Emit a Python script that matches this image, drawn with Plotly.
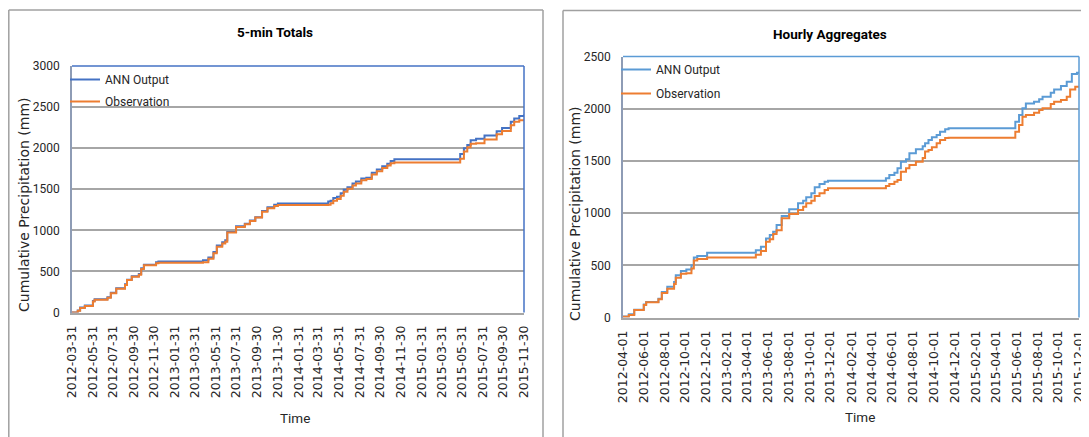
import plotly.graph_objects as go

# ---------------- data: 5-min Totals (left) ----------------
left_dates = [
    "2012-03-31", "2012-04-17", "2012-04-24", "2012-05-08", "2012-06-01", "2012-06-06",
    "2012-07-14", "2012-07-24", "2012-08-09", "2012-09-04", "2012-09-10", "2012-09-24",
    "2012-10-15", "2012-10-22", "2012-10-30", "2012-12-05", "2012-12-12", "2013-04-23",
    "2013-05-09", "2013-05-24", "2013-06-03", "2013-06-19", "2013-06-28", "2013-07-04",
    "2013-07-30", "2013-08-25", "2013-09-09", "2013-09-25", "2013-10-15", "2013-10-31",
    "2013-11-20", "2013-12-01", "2014-04-29", "2014-05-06", "2014-05-14", "2014-05-25",
    "2014-06-05", "2014-06-14", "2014-06-25", "2014-07-10", "2014-07-20", "2014-08-05",
    "2014-08-20", "2014-09-05", "2014-09-20", "2014-10-06", "2014-10-21", "2014-10-31",
    "2014-11-11", "2015-05-25", "2015-06-05", "2015-06-15", "2015-06-25", "2015-07-11",
    "2015-08-05", "2015-09-10", "2015-09-26", "2015-10-22", "2015-11-01", "2015-11-16",
    "2015-11-30",
]
left_ann = [
    0, 25, 60, 85, 140, 160,
    185, 240, 295, 345, 400, 440,
    470, 540, 580, 612, 622, 635,
    670, 735, 815, 855, 880, 980,
    1050, 1080, 1120, 1160, 1235, 1280,
    1310, 1328, 1350, 1360, 1395, 1410,
    1450, 1495, 1525, 1570, 1595, 1630,
    1640, 1700, 1740, 1780, 1810, 1845,
    1865, 1930, 2000, 2040, 2095, 2115,
    2155, 2205, 2245, 2320, 2360, 2390,
    2410,
]
left_obs = [
    0, 20, 55, 80, 135, 155,
    180, 235, 290, 335, 395, 435,
    460, 530, 575, 600, 605, 612,
    655, 720, 800, 840, 860, 975,
    1040, 1075, 1115, 1155, 1225, 1270,
    1295, 1308, 1310, 1330, 1360, 1380,
    1420, 1470, 1505, 1545, 1570, 1610,
    1625, 1680, 1720, 1760, 1790, 1815,
    1825, 1870, 1960, 2010, 2055, 2060,
    2105, 2170, 2210, 2280, 2320, 2340,
    2350,
]
left_ticks = [
    "2012-03-31", "2012-05-31", "2012-07-31", "2012-09-30", "2012-11-30",
    "2013-01-31", "2013-03-31", "2013-05-31", "2013-07-31", "2013-09-30", "2013-11-30",
    "2014-01-31", "2014-03-31", "2014-05-31", "2014-07-31", "2014-09-30", "2014-11-30",
    "2015-01-31", "2015-03-31", "2015-05-31", "2015-07-31", "2015-09-30", "2015-11-30",
]

# ---------------- data: Hourly Aggregates (right) ----------------
right_dates = [
    "2012-04-01", "2012-04-18", "2012-05-04", "2012-06-01", "2012-06-08", "2012-07-14",
    "2012-07-24", "2012-08-09", "2012-08-29", "2012-09-03", "2012-09-18", "2012-10-04",
    "2012-10-19", "2012-10-26", "2012-11-05", "2012-12-04", "2013-04-26", "2013-05-11",
    "2013-05-26", "2013-06-06", "2013-06-16", "2013-06-26", "2013-07-11", "2013-08-02",
    "2013-08-28", "2013-09-12", "2013-09-21", "2013-10-06", "2013-10-16", "2013-10-30",
    "2013-11-14", "2013-11-24", "2014-05-13", "2014-05-23", "2014-06-07", "2014-06-16",
    "2014-06-26", "2014-07-11", "2014-07-21", "2014-08-09", "2014-08-29", "2014-09-05",
    "2014-09-15", "2014-09-25", "2014-10-09", "2014-10-19", "2014-11-03", "2014-11-13",
    "2015-05-28", "2015-06-08", "2015-06-18", "2015-06-28", "2015-07-22", "2015-08-06",
    "2015-08-16", "2015-09-09", "2015-09-19", "2015-10-09", "2015-10-26", "2015-11-05",
    "2015-11-10", "2015-11-20", "2015-11-25", "2015-12-01",
]
right_ann = [
    10, 30, 75, 125, 148, 180,
    245, 295, 340, 405, 446, 460,
    500, 574, 590, 620, 645, 677,
    757, 790, 822, 886, 972, 1036,
    1094, 1119, 1151, 1189, 1247, 1279,
    1301, 1310, 1333, 1365, 1387, 1429,
    1493, 1515, 1573, 1611, 1640, 1670,
    1700, 1726, 1748, 1780, 1802, 1812,
    1876, 1940, 2004, 2051, 2067, 2090,
    2115, 2153, 2185, 2217, 2259, 2259,
    2332, 2332, 2345, 2355,
]
right_obs = [
    8, 25, 72, 120, 145, 175,
    235, 275, 320, 380, 420, 425,
    470, 545, 560, 575, 600, 638,
    725, 750, 800, 835, 950, 991,
    1030, 1061, 1094, 1119, 1164, 1189,
    1221, 1237, 1260, 1279, 1301, 1318,
    1397, 1429, 1461, 1493, 1527, 1590,
    1604, 1630, 1669, 1700, 1719, 1722,
    1780, 1844, 1923, 1940, 1962, 1988,
    2004, 2045, 2067, 2083, 2115, 2185,
    2185, 2211, 2211, 2215,
]
right_ticks = [
    "2012-04-01", "2012-06-01", "2012-08-01", "2012-10-01", "2012-12-01",
    "2013-02-01", "2013-04-01", "2013-06-01", "2013-08-01", "2013-10-01", "2013-12-01",
    "2014-02-01", "2014-04-01", "2014-06-01", "2014-08-01", "2014-10-01", "2014-12-01",
    "2015-02-01", "2015-04-01", "2015-06-01", "2015-08-01", "2015-10-01", "2015-12-01",
]

# ---------------- figure ----------------
# The page places the figure 8px in from the top-left corner, so the figure is
# sized to the visible area and positions below are given in page pixels.
OFF = 8
W, H = 1089 - OFF, 437 - OFF


def px(x):
    return (x - OFF) / W


def py(y):
    return 1 - (y - OFF) / H


ORANGE = "#ED7D31"
BLUE_L = "#4472C4"
BLUE_R = "#5B9BD5"
GRID = "#A6A6A6"
AXIS = "#A6A6A6"
TXT = "#262626"

fig = go.Figure()
fig.add_trace(go.Scatter(x=left_dates, y=left_ann, name="ANN Output", mode="lines",
                         line=dict(color=BLUE_L, width=2, shape="hv"),
                         xaxis="x", yaxis="y", legend="legend", legendgroup="a1"))
fig.add_trace(go.Scatter(x=left_dates, y=left_obs, name="Observation", mode="lines",
                         line=dict(color=ORANGE, width=2, shape="hv"),
                         xaxis="x", yaxis="y", legend="legend", legendgroup="o1"))
fig.add_trace(go.Scatter(x=right_dates, y=right_ann, name="ANN Output", mode="lines",
                         line=dict(color=BLUE_R, width=2, shape="hv"),
                         xaxis="x2", yaxis="y2", legend="legend2", legendgroup="a2"))
fig.add_trace(go.Scatter(x=right_dates, y=right_obs, name="Observation", mode="lines",
                         line=dict(color=ORANGE, width=2, shape="hv"),
                         xaxis="x2", yaxis="y2", legend="legend2", legendgroup="o2"))

xtickfont = dict(family="DejaVu Sans", size=12.5, color=TXT)
ytickfont = dict(family="Roboto", size=12, color=TXT)

L = dict(x0=72, x1=524, y0=66, y1=312.5)
R = dict(x0=623, x1=1079, y0=56.5, y1=317.5)


def xaxis_cfg(dom, rng, ticks, anchor):
    return dict(domain=[px(dom["x0"]), px(dom["x1"])], range=rng, type="date",
                tickmode="array", tickvals=ticks, ticktext=ticks, tickangle=-90,
                showgrid=False, zeroline=False, ticks="", tickfont=xtickfont,
                showline=True, linecolor=AXIS, linewidth=2, anchor=anchor,
                ticklabelstandoff=6, fixedrange=True, automargin=False)


def yaxis_cfg(dom, rng, anchor):
    return dict(domain=[py(dom["y1"]), py(dom["y0"])], range=rng, dtick=500,
                showgrid=True, gridcolor=GRID, gridwidth=2, zeroline=False,
                ticks="", tickfont=ytickfont, showline=True, linecolor="#8E9CB5",
                linewidth=1.5, anchor=anchor, ticklabelstandoff=8, fixedrange=True,
                automargin=False)


shapes = []
# plot-area borders (top & right, blue)
for d, c in ((L, BLUE_L), (R, BLUE_R)):
    shapes.append(dict(type="line", xref="paper", yref="paper",
                       x0=px(d["x0"]), x1=px(d["x1"]), y0=py(d["y0"]), y1=py(d["y0"]),
                       line=dict(color=c, width=1.5)))
    shapes.append(dict(type="line", xref="paper", yref="paper",
                       x0=px(d["x1"]), x1=px(d["x1"]), y0=py(d["y0"]), y1=py(d["y1"]),
                       line=dict(color=c, width=1.5)))
# outer chart-area frames
FR = "#A0A0A0"
for (xa, ya, xb, yb) in [(8.8, 10, 8.8, 440), (8.8, 10, 543, 10), (543, 10, 543, 440),
                         (563, 10.5, 563, 440), (563, 10.5, 1095, 10.5)]:
    shapes.append(dict(type="line", xref="paper", yref="paper",
                       x0=px(xa), x1=px(xb), y0=py(ya), y1=py(yb),
                       line=dict(color=FR, width=1.5)))


def ann(text, x, y, size, family="Roboto", angle=0, color=TXT):
    return dict(text=text, x=px(x), y=py(y), xref="paper", yref="paper",
                xanchor="center", yanchor="middle", showarrow=False, textangle=angle,
                font=dict(family=family, size=size, color=color))


annotations = [
    ann("<b>5-min Totals</b>", 275, 32, 13.5, color="#000000"),
    ann("<b>Hourly Aggregates</b>", 830, 34, 13.5, color="#000000"),
    ann("Cumulative Precipitation (mm)", 24, 205, 14, family="DejaVu Sans", angle=-90),
    ann("Cumulative Precipitation (mm)", 575, 214, 14, family="DejaVu Sans", angle=-90),
    ann("Time", 295, 418, 13.5),
    ann("Time", 860, 417, 13.5),
]

legend_font = dict(family="Roboto", size=12, color=TXT)

fig.update_layout(
    width=W, height=H, autosize=False,
    margin=dict(l=0, r=0, t=0, b=0, pad=0, autoexpand=False),
    paper_bgcolor="white", plot_bgcolor="white",
    xaxis=xaxis_cfg(L, ["2012-03-31", "2015-11-30"], left_ticks, "y"),
    yaxis=yaxis_cfg(L, [0, 3000], "x"),
    xaxis2=xaxis_cfg(R, ["2012-04-01", "2015-12-01"], right_ticks, "y2"),
    yaxis2=yaxis_cfg(R, [0, 2500], "x2"),
    legend=dict(x=px(65), y=py(65), xanchor="left", yanchor="top",
                bgcolor="rgba(0,0,0,0)", font=legend_font, itemwidth=30,
                tracegroupgap=3),
    legend2=dict(x=px(616), y=py(55), xanchor="left", yanchor="top",
                 bgcolor="rgba(0,0,0,0)", font=legend_font, itemwidth=30,
                 tracegroupgap=5),
    shapes=shapes,
    annotations=annotations,
    showlegend=True,
)

fig.write_html("out.html")
